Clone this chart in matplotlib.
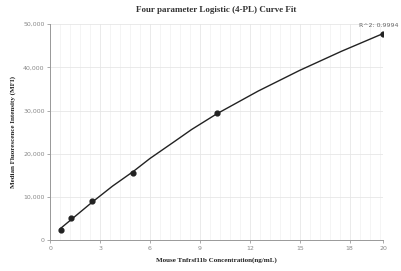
import numpy as np
import matplotlib
matplotlib.use("Agg")
import matplotlib.pyplot as plt
from matplotlib.ticker import FuncFormatter, MultipleLocator

# standards
conc = [0.625, 1.25, 2.5, 5, 10, 20]
mfi = [2350, 5100, 9000, 15600, 29400, 47800]

# fitted curve
curve_x = [0.625, 1.25, 2.5, 3.75, 5, 6, 7.5, 8.5, 10, 12.5, 15, 17.5, 20]
curve_y = [2700, 4700, 8700, 12500, 15900, 18900, 22900, 25600, 29200, 34500, 39300, 43700, 47800]

xticks = [0, 3, 6, 9, 12, 15, 18, 20]
yticks = [0, 10000, 20000, 30000, 40000, 50000]
r2 = 0.9994


def main():
    fig = plt.figure(figsize=(4.01, 2.71), dpi=100)
    ax = fig.add_axes([0.125, 0.114, 0.83, 0.797])

    ax.plot(curve_x, curve_y, color="#222222", lw=1.0, zorder=3)
    ax.scatter(conc, mfi, s=12, color="#222222", zorder=4)

    ax.set_xlim(0, 20)
    ax.set_ylim(0, 50000)
    ax.set_xticks(xticks)
    ax.set_yticks(yticks)
    ax.xaxis.set_minor_locator(MultipleLocator(0.6))
    ax.yaxis.set_major_formatter(FuncFormatter(lambda v, p: f"{int(v):,}"))

    ax.grid(which="major", color="#e6e6e6", lw=0.6)
    ax.grid(which="minor", axis="x", color="#f0f0f0", lw=0.5)
    ax.set_axisbelow(True)

    for s in ["top", "right"]:
        ax.spines[s].set_visible(False)
    for s in ["left", "bottom"]:
        ax.spines[s].set_color("#999999")
        ax.spines[s].set_linewidth(0.7)

    ax.tick_params(which="major", labelsize=4.5, colors="#888888", length=2, width=0.5, pad=2)
    ax.tick_params(which="minor", length=0)

    serif = ["Liberation Serif", "DejaVu Serif"]
    ax.set_title("Four parameter Logistic (4-PL) Curve Fit", fontsize=6.5, fontweight="bold",
                 family=serif, color="#333333", pad=9)
    ax.set_xlabel("Mouse Tnfrsf11b Concentration(ng/mL)", fontsize=5, fontweight="bold",
                  family=serif, color="#222222", labelpad=5)
    ax.set_ylabel("Median Fluorescence Intensity (MFI)", fontsize=5, fontweight="bold",
                  family=serif, color="#222222", labelpad=5)

    ax.annotate(f"R^2: {r2}", xy=(conc[-1], mfi[-1]), xytext=(11, 4), textcoords="offset points",
                ha="right", va="bottom", fontsize=4.5, color="#666666", annotation_clip=False)

    fig.savefig("out.png", dpi=100)
    plt.close(fig)


if __name__ == "__main__":
    main()
